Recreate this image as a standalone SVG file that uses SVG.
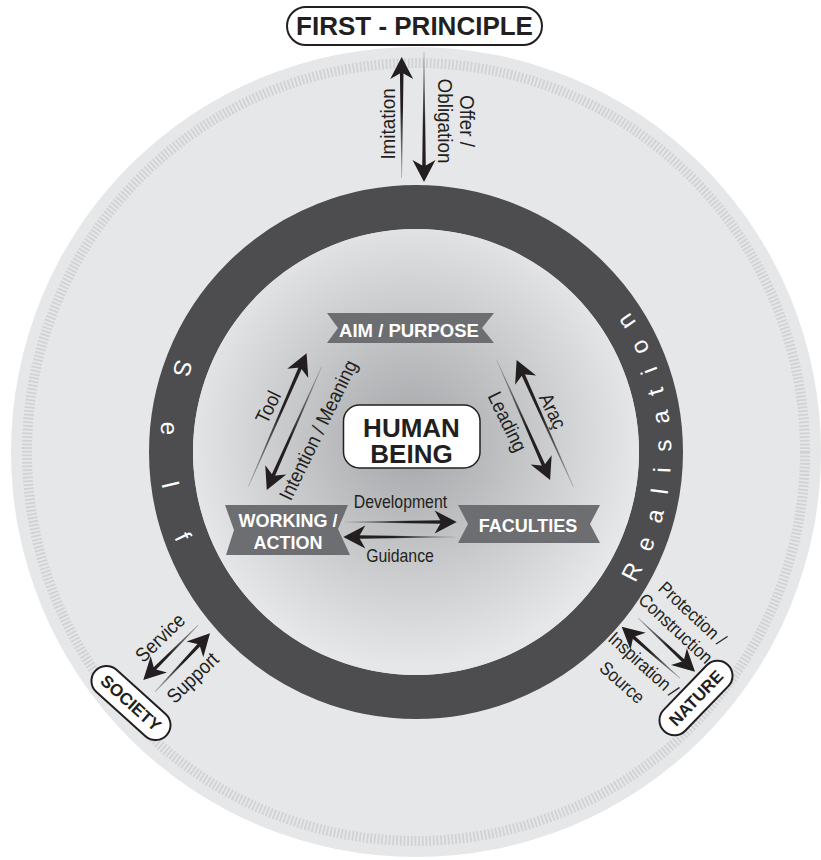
<svg xmlns="http://www.w3.org/2000/svg" width="821" height="860" viewBox="0 0 821 860">
<defs>
  <radialGradient id="core" cx="412" cy="440" r="228" gradientUnits="userSpaceOnUse">
    <stop offset="0" stop-color="#a3a5a8"/>
    <stop offset="1" stop-color="#e6e7e8"/>
  </radialGradient>
  <linearGradient id="taper" x1="0" y1="0" x2="1" y2="0">
    <stop offset="0" stop-color="#a0a1a3"/>
    <stop offset="0.65" stop-color="#231f20"/>
  </linearGradient>
  <path id="ah" d="M0,0 L-22,-11.5 L-15.5,0 L-22,11.5 Z"/>
  <path id="ringpath" d="M416,707 A255,255 0 1 0 416,197 A255,255 0 1 0 416,707"/>
</defs>
<style>
  .lbl{font-family:"Liberation Sans",Arial,sans-serif;fill:#231f20;text-anchor:middle}
  .ban{fill:#6d6e71}
  .bt{font-family:"Liberation Sans",Arial,sans-serif;font-weight:bold;fill:#fff;text-anchor:middle}
  .box{fill:#fff;stroke:#231f20;stroke-width:2}
  .bx{font-family:"Liberation Sans",Arial,sans-serif;font-weight:bold;fill:#231f20;text-anchor:middle}
  .head{fill:#231f20}
  .shaft{fill:url(#taper)}
  .ringtxt{font-family:"Liberation Sans",Arial,sans-serif;font-size:24px;fill:#fff}
</style>

<g id="background">
  <circle cx="416" cy="452" r="405" fill="#e6e7e8"/>
  <circle cx="416" cy="452" r="389" fill="none" stroke="#d1d2d4" stroke-width="10" stroke-dasharray="1.8 1.9"/>
  <circle cx="416" cy="452" r="245" fill="none" stroke="#4d4d4f" stroke-width="44"/>
  <circle cx="416" cy="452" r="223" fill="url(#core)"/>
</g>

<g id="ring-text">
  <text class="ringtxt" letter-spacing="16.7"><textPath href="#ringpath" startOffset="263">Realisation</textPath></text>
  <text class="ringtxt" letter-spacing="48.9"><textPath href="#ringpath" startOffset="1106">Self</textPath></text>
</g>

<g id="connectors">
  <g transform="translate(401.7,178) rotate(-90)"><path class="shaft" d="M0,-0.3 L106,-1.8 L106,1.8 L0,0.3 Z"/><use href="#ah" x="121" class="head"/></g>
  <g transform="translate(424,52) rotate(90)"><path class="shaft" d="M0,-0.3 L115,-1.8 L115,1.8 L0,0.3 Z"/><use href="#ah" x="130" class="head"/></g>
  <g transform="translate(248.3,486.7) rotate(-66.4)"><path class="shaft" d="M0,-0.3 L130.6,-1.8 L130.6,1.8 L0,0.3 Z"/><use href="#ah" x="145.6" class="head"/></g>
  <g transform="translate(321.7,366.7) rotate(114)"><path class="shaft" d="M0,-0.3 L120,-1.8 L120,1.8 L0,0.3 Z"/><use href="#ah" x="135" class="head"/></g>
  <g transform="translate(573.3,486.7) rotate(-114.1)"><path class="shaft" d="M0,-0.3 L123.8,-1.8 L123.8,1.8 L0,0.3 Z"/><use href="#ah" x="138.8" class="head"/></g>
  <g transform="translate(496.7,360) rotate(66)"><path class="shaft" d="M0,-0.3 L116.3,-1.8 L116.3,1.8 L0,0.3 Z"/><use href="#ah" x="131.3" class="head"/></g>
  <g transform="translate(345,522)"><path class="shaft" d="M0,-0.3 L96.7,-1.8 L96.7,1.8 L0,0.3 Z"/><use href="#ah" x="111.7" class="head"/></g>
  <g transform="translate(455,537) rotate(180)"><path class="shaft" d="M0,-0.3 L96.7,-1.8 L96.7,1.8 L0,0.3 Z"/><use href="#ah" x="111.7" class="head"/></g>
  <g transform="translate(198.3,625) rotate(135)"><path class="shaft" d="M0,-0.3 L62.8,-1.8 L62.8,1.8 L0,0.3 Z"/><use href="#ah" x="77.8" class="head"/></g>
  <g transform="translate(155,691.7) rotate(-46.7)"><path class="shaft" d="M0,-0.3 L65.2,-1.8 L65.2,1.8 L0,0.3 Z"/><use href="#ah" x="80.2" class="head"/></g>
  <g transform="translate(680,678.3) rotate(-138.5)"><path class="shaft" d="M0,-0.3 L62.9,-1.8 L62.9,1.8 L0,0.3 Z"/><use href="#ah" x="77.9" class="head"/></g>
  <g transform="translate(638.3,618.3) rotate(43.3)"><path class="shaft" d="M0,-0.3 L62.9,-1.8 L62.9,1.8 L0,0.3 Z"/><use href="#ah" x="77.9" class="head"/></g>
</g>

<g id="labels">
  <text class="lbl" font-size="20.5" transform="translate(388,124) rotate(-90) scale(0.92,1)" y="7">Imitation</text>
  <text class="lbl" font-size="20.5" transform="translate(467.5,121) rotate(90) scale(0.92,1)" y="7">Offer /</text>
  <text class="lbl" font-size="20.5" transform="translate(445,121) rotate(90) scale(0.92,1)" y="7">Obligation</text>
  <text class="lbl" font-size="20" transform="translate(268,407) rotate(-64) scale(0.9,1)" y="7">Tool</text>
  <text class="lbl" font-size="20" transform="translate(318,430) rotate(-64) scale(0.9,1)" y="7">Intention / Meaning</text>
  <text class="lbl" font-size="20" transform="translate(553,411) rotate(64) scale(0.9,1)" y="7">Araç</text>
  <text class="lbl" font-size="20" transform="translate(507.5,421.7) rotate(64) scale(0.9,1)" y="7">Leading</text>
  <text class="lbl" font-size="18" transform="translate(400.5,508) scale(0.88,1)">Development</text>
  <text class="lbl" font-size="18" transform="translate(400,562) scale(0.88,1)">Guidance</text>
  <text class="lbl" font-size="20" transform="translate(160,637.5) rotate(-44) scale(0.9,1)" y="7">Service</text>
  <text class="lbl" font-size="20" transform="translate(192.5,677.5) rotate(-44) scale(0.9,1)" y="7">Support</text>
  <text class="lbl" font-size="18.5" transform="translate(692.5,613.3) rotate(43) scale(0.9,1)" y="6.5">Protection /</text>
  <text class="lbl" font-size="18.5" transform="translate(675.8,628.3) rotate(43) scale(0.9,1)" y="6.5">Construction</text>
  <text class="lbl" font-size="18.5" transform="translate(643.3,664.2) rotate(42) scale(0.9,1)" y="6.5">Inspiration /</text>
  <text class="lbl" font-size="18.5" transform="translate(622.3,682.3) rotate(42) scale(0.9,1)" y="6.5">Source</text>
</g>

<g id="first-principle">
  <rect class="box" x="287" y="7" width="255" height="38" rx="19"/>
  <text class="bx" font-size="26" x="414.5" y="35">FIRST - PRINCIPLE</text>
</g>

<g id="aim-purpose">
  <polygon class="ban" points="327,313 494,313 482,328 494,343 327,343 338,328"/>
  <text class="bt" font-size="18.5" x="409" y="337">AIM / PURPOSE</text>
</g>

<g id="working-action">
  <polygon class="ban" points="225,505 348,505 338,529 350,555 226,555 234,530"/>
  <text class="bt" font-size="18" x="288" y="527">WORKING /</text>
  <text class="bt" font-size="18" x="288" y="549">ACTION</text>
</g>

<g id="faculties">
  <polygon class="ban" points="458,505 600,505 590,524 600,543 458,543 468,524"/>
  <text class="bt" font-size="18" x="528" y="532">FACULTIES</text>
</g>

<g id="human-being">
  <rect x="343.5" y="405" width="136.5" height="63" rx="16" fill="#fff" stroke="#231f20" stroke-width="1.5"/>
  <text class="bx" font-size="26" x="411.5" y="437">HUMAN</text>
  <text class="bx" font-size="26" x="411.5" y="463">BEING</text>
</g>

<g id="society" transform="translate(131,703) rotate(42)">
  <rect class="box" x="-48" y="-15" width="96" height="30" rx="15"/>
  <text class="bx" font-size="17" y="6">SOCIETY</text>
</g>

<g id="nature" transform="translate(696,698) rotate(-46)">
  <rect class="box" x="-46" y="-15" width="92" height="30" rx="15"/>
  <text class="bx" font-size="17" y="6">NATURE</text>
</g>
</svg>
